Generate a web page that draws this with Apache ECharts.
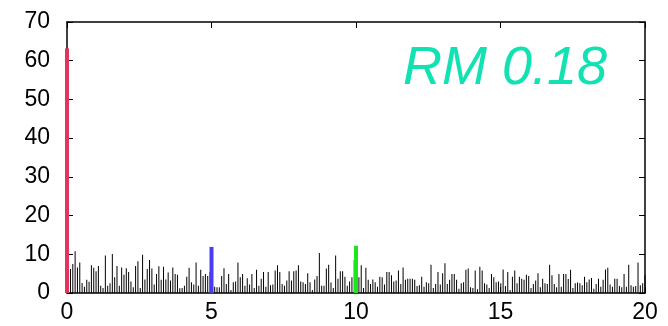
<!DOCTYPE html>
<html>
<head>
<meta charset="utf-8">
<script src="https://cdn.jsdelivr.net/npm/echarts@6/dist/echarts.min.js"></script>
<style>html,body{margin:0;padding:0;background:#fff}#c{width:668px;height:326px}</style>
</head>
<body>
<div id="c"></div>
<script>
// Tick labels
const xTicks = [0, 5, 10, 15, 20];
const yTicks = [0, 10, 20, 30, 40, 50, 60, 70];
// Spectrum line heights (evenly spaced from xStart to xEnd)
const xStart = 0.12;
const xEnd = 20.0;
const spectrum = [
  6.2,7.5,10.8,6.6,7.9,2.6,1.6,3.4,2.9,7.2,6.5,5.6,7.0,1.9,1.3,9.7,1.9,2.5,10.1,4.1,
  7.0,1.9,6.6,4.7,6.4,5.4,3.0,1.5,7.0,8.2,1.3,9.9,3.5,6.2,8.5,6.3,2.2,4.9,6.9,3.4,
  6.8,3.5,5.3,3.2,6.6,4.9,4.7,1.2,
  1.3,1.9,4.2,6.5,2.8,2.2,7.9,1.9,6.0,4.4,4.9,4.4,5.4,3.0,1.6,1.5,1.5,4.4,6.4,2.3,
  4.9,0.8,2.8,3.0,7.9,4.1,4.9,1.9,3.8,2.2,4.9,1.3,6.0,1.9,3.7,5.4,1.6,5.4,2.0,2.2,
  5.8,7.2,5.4,2.3,1.9,3.2,5.6,3.2,5.6,
  5.8,7.2,3.0,2.8,2.3,5.1,2.8,0.8,3.5,4.4,10.3,1.9,1.9,6.3,7.3,2.7,1.3,9.7,3.7,5.6,
  5.6,4.2,1.9,3.0,4.1,8.5,5.3,4.1,7.2,1.3,6.5,3.4,2.3,3.5,2.8,1.6,4.2,4.1,2.2,5.4,
  5.4,4.6,3.0,3.2,5.8,2.3,6.6,3.4,3.7,
  3.7,3.7,3.4,1.8,2.0,4.2,1.6,2.8,2.5,7.3,1.3,2.3,5.4,2.2,5.1,7.7,2.3,3.4,4.9,4.9,
  3.4,1.1,2.5,2.8,6.0,6.3,1.5,1.3,5.8,1.0,6.8,5.8,2.5,2.2,1.3,4.9,4.1,2.8,3.0,2.5,
  6.1,1.8,5.4,0.8,4.2,5.8,2.5,4.2,3.7,3.4,4.7,
  4.4,1.3,2.3,3.2,5.1,1.5,3.7,2.5,2.3,7.3,4.6,2.3,1.5,4.9,1.6,4.9,4.9,3.6,6.0,1.3,
  2.5,2.7,2.5,2.0,4.2,2.8,3.5,3.9,1.1,2.3,3.7,1.6,3.4,6.1,6.5,2.2,1.6,3.7,3.7,1.8,
  1.5,4.9,1.6,7.3,2.0,1.6,1.8,7.9,2.0,2.5,4.6
];
// Highlighted peaks
const peakX = [0, 5, 10];
const peakY = [63.2, 11.9, 12.2];
const peakColors = ['#e23461', '#4b3cf2', '#1ee61e'];
const label = 'RM 0.18';

const n = spectrum.length;
const barData = spectrum.map((v, i) => [xStart + i * (xEnd - xStart) / (n - 1), v]);

const series = [{
  type: 'bar',
  data: barData,
  barWidth: 1,
  itemStyle: { color: '#000' },
  silent: true,
  z: 2,
  animation: false
}];
peakX.forEach((x, i) => {
  series.push({
    type: 'line',
    data: [[x, 0], [x, peakY[i]]],
    symbol: 'none',
    lineStyle: { color: peakColors[i], width: 4, cap: 'butt' },
    animation: false,
    z: 10
  });
});

const axisFont = { fontFamily: 'Liberation Sans, Arial, sans-serif', fontSize: 23, color: '#000' };
const lineStyle = { color: '#000', width: 1.5 };
const tick = { show: true, inside: true, length: 6, lineStyle: { color: '#000', width: 1 } };
const chart = echarts.init(document.getElementById('c'), null, { renderer: 'canvas' });
chart.setOption({
  animation: false,
  grid: { left: 67, right: 23, top: 22, bottom: 33 },
  xAxis: [{
    type: 'value', min: xTicks[0], max: xTicks[xTicks.length - 1], interval: 5,
    axisLine: { show: true, onZero: false, lineStyle: lineStyle },
    axisTick: tick,
    axisLabel: Object.assign({ margin: 8 }, axisFont),
    splitLine: { show: false }
  }, {
    type: 'value', position: 'top', min: xTicks[0], max: xTicks[xTicks.length - 1], interval: 5,
    axisLine: { show: true, onZero: false, lineStyle: lineStyle },
    axisTick: tick,
    axisLabel: { show: false }, splitLine: { show: false }
  }],
  yAxis: [{
    type: 'value', position: 'left', min: yTicks[0], max: yTicks[yTicks.length - 1], interval: 10,
    axisLine: { show: true, onZero: false, lineStyle: lineStyle },
    axisTick: tick,
    axisLabel: Object.assign({ margin: 17 }, axisFont),
    splitLine: { show: false }
  }, {
    type: 'value', position: 'right', min: yTicks[0], max: yTicks[yTicks.length - 1], interval: 10,
    axisLine: { show: true, onZero: false, lineStyle: lineStyle },
    axisTick: tick,
    axisLabel: { show: false }, splitLine: { show: false }
  }],
  series: series,
  graphic: [{
    type: 'text', left: 403, top: 42, z: 20,
    style: {
      text: label, fill: '#10e2b2',
      font: 'italic 54px "Liberation Sans", Arial, sans-serif'
    }
  }]
});
</script>
</body>
</html>
